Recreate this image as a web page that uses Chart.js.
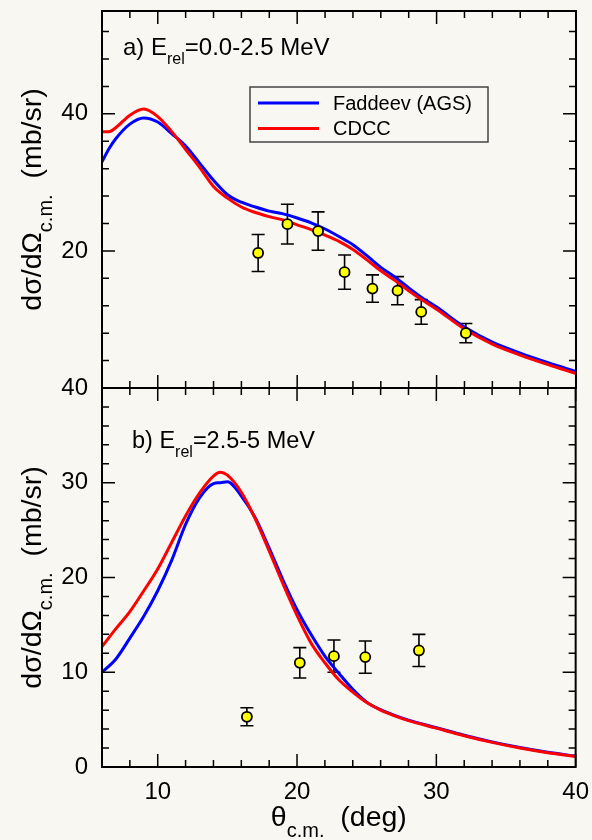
<!DOCTYPE html>
<html>
<head>
<meta charset="utf-8">
<script src="https://cdn.jsdelivr.net/npm/chart.js@4.4.0/dist/chart.umd.min.js"></script>
<style>
  html, body { margin: 0; padding: 0; background: #f8f7f1; }
  #wrap { position: relative; width: 592px; height: 840px; }
  canvas { position: absolute; left: 0; }
  #panelA { top: 0; }
  #panelB { top: 376px; }
</style>
</head>
<body>
<div id="wrap">
  <canvas id="panelA" width="592" height="400"></canvas>
  <canvas id="panelB" width="592" height="464"></canvas>
</div>
<script>
// panel a: E_rel = 0.0-2.5 MeV
var thetaA   = [6, 6.5, 7, 8, 9, 10, 11, 12, 13, 14, 15, 16, 17, 18, 19, 20, 21, 22, 23, 24, 25, 26, 27, 28, 29, 30, 32, 34, 36, 38, 40];
var cdccA    = [37.4, 37.4, 38.0, 39.8, 40.7, 39.6, 37.4, 34.8, 32.2, 29.4, 27.7, 26.4, 25.6, 25.0, 24.5, 23.8, 23.1, 22.3, 21.4, 20.2, 18.7, 17.1, 15.7, 14.2, 12.8, 11.5, 8.6, 6.4, 4.8, 3.4, 2.1];
var faddeevA = [33.0, 34.9, 36.4, 38.5, 39.4, 38.8, 37.1, 35.3, 32.8, 30.3, 28.2, 27.1, 26.4, 25.8, 25.4, 24.8, 24.1, 23.2, 22.1, 20.9, 19.3, 17.6, 16.2, 14.6, 13.1, 11.8, 8.9, 6.7, 5.1, 3.7, 2.4];
var expThetaA = [17.2, 19.3, 21.5, 23.4, 25.4, 27.2, 28.9, 32.1];
var expSigmaA = [19.7, 23.9, 22.9, 16.9, 14.5, 14.2, 11.1, 8.0];
var expErrA   = [2.7, 2.9, 2.8, 2.5, 2.0, 2.05, 1.8, 1.4];

// panel b: E_rel = 2.5-5 MeV
var thetaB   = [6, 7, 8, 9, 10, 11, 12, 13, 14, 14.5, 15, 16, 17, 18, 19, 20, 21, 22, 23, 24, 25, 26, 27, 28, 30, 32, 34, 36, 38, 40];
var cdccB    = [12.7, 14.6, 16.4, 18.6, 20.9, 23.7, 26.5, 28.9, 30.7, 31.1, 30.8, 29.0, 26.2, 22.8, 19.3, 16.0, 13.1, 11.0, 9.2, 7.9, 6.8, 6.0, 5.4, 4.9, 4.1, 3.3, 2.6, 2.0, 1.5, 1.1];
var faddeevB = [10.0, 11.4, 13.6, 15.9, 18.6, 21.8, 25.6, 28.4, 29.9, 30.0, 30.1, 28.6, 26.3, 23.1, 19.7, 16.6, 14.0, 11.7, 9.9, 8.2, 6.85, 6.05, 5.45, 4.95, 4.15, 3.35, 2.65, 2.05, 1.55, 1.15];
var expThetaB = [16.4, 20.2, 22.65, 24.9, 28.75];
var expSigmaB = [5.3, 11.0, 11.7, 11.6, 12.3];
var expErrB   = [0.95, 1.6, 1.7, 1.7, 1.7];

var xTicks  = [10, 20, 30, 40];
var yTicksA = [20, 40];
var yTicksB = [0, 10, 20, 30, 40];
var seriesNames = ['Faddeev (AGS)', 'CDCC'];

var FONT = "'Liberation Sans', Arial, Helvetica, sans-serif";

function pts(xs, ys) {
    return xs.map(function (x, i) { return { x: x, y: ys[i] }; });
}

function makeDatasets(theta, fad, cdcc, ex, ey) {
    // first dataset is drawn on top
    return [
        { label: 'exp', data: pts(ex, ey), showLine: false, pointRadius: 5,
          pointBackgroundColor: '#ffff00', pointBorderColor: '#000', pointBorderWidth: 1.8 },
        { label: seriesNames[1], data: pts(theta, cdcc), borderColor: '#ff0000', borderWidth: 3, pointRadius: 0,
          cubicInterpolationMode: 'monotone' },
        { label: seriesNames[0], data: pts(theta, fad), borderColor: '#0000ff', borderWidth: 3, pointRadius: 0,
          cubicInterpolationMode: 'monotone' }
    ];
}

// draw a run of text pieces; each piece is [text, size, dy]
function drawParts(ctx, parts, x, y, center) {
    var total = 0;
    parts.forEach(function (p) {
        ctx.font = p[1] + 'px ' + FONT;
        total += ctx.measureText(p[0]).width;
    });
    var cx = center ? x - total / 2 : x;
    ctx.textAlign = 'left';
    ctx.textBaseline = 'alphabetic';
    parts.forEach(function (p) {
        ctx.font = p[1] + 'px ' + FONT;
        ctx.fillText(p[0], cx, y + (p[2] || 0));
        cx += ctx.measureText(p[0]).width;
    });
}

var framePlugin = {
    id: 'frame',
    beforeDatasetsDraw: function (chart, args, opts) {
        // error bars under the markers
        var ctx = chart.ctx, xs = chart.scales.x, ys = chart.scales.y;
        var pts0 = chart.data.datasets[0].data;
        ctx.save();
        ctx.strokeStyle = '#000';
        ctx.lineWidth = 1.6;
        pts0.forEach(function (p, i) {
            var e = opts.errors[i];
            var px = xs.getPixelForValue(p.x);
            var top = ys.getPixelForValue(p.y + e), bot = ys.getPixelForValue(p.y - e);
            ctx.beginPath();
            ctx.moveTo(px, top); ctx.lineTo(px, bot);
            ctx.moveTo(px - 6.5, top); ctx.lineTo(px + 6.5, top);
            ctx.moveTo(px - 6.5, bot); ctx.lineTo(px + 6.5, bot);
            ctx.stroke();
        });
        ctx.restore();
    },
    afterDraw: function (chart, args, opts) {
        var ctx = chart.ctx, a = chart.chartArea;
        var xs = chart.scales.x, ys = chart.scales.y;
        ctx.save();
        ctx.strokeStyle = '#000';
        ctx.lineWidth = 1.5;
        ctx.beginPath();
        var v, p, len;
        for (v = xs.min; v <= xs.max + 1e-9; v += opts.xMinor) {
            p = xs.getPixelForValue(v);
            len = (Math.abs(v % opts.xMajor) < 1e-9) ? 13 : 7;
            ctx.moveTo(p, a.bottom); ctx.lineTo(p, a.bottom - len);
            ctx.moveTo(p, a.top); ctx.lineTo(p, a.top + len);
        }
        for (v = ys.min; v <= ys.max + 1e-9; v += opts.yMinor) {
            p = ys.getPixelForValue(v);
            len = (Math.abs(v % opts.yMajor) < 1e-9) ? 13 : 7;
            ctx.moveTo(a.left, p); ctx.lineTo(a.left + len, p);
            ctx.moveTo(a.right, p); ctx.lineTo(a.right - len, p);
        }
        ctx.stroke();
        ctx.lineWidth = 2;
        ctx.strokeRect(a.left, a.top, a.right - a.left, a.bottom - a.top);

        // labels
        ctx.fillStyle = '#000';
        drawParts(ctx, opts.title, opts.titleX, opts.titleY, false);

        ctx.save();
        ctx.translate(41, (a.top + a.bottom) / 2);
        ctx.rotate(-Math.PI / 2);
        drawParts(ctx, [['d\u03c3/d\u03a9', 28.5], ['c.m.', 20, 11], ['  (mb/sr)', 28.5]], 0, 0, true);
        ctx.restore();

        if (opts.xTitle) {
            drawParts(ctx, [['\u03b8', 28.5], ['c.m.', 20, 11], ['  (deg)', 28.5]],
                (a.left + a.right) / 2, opts.xTitleY, true);
        }

        if (opts.legend) {
            var L = opts.legend;
            ctx.fillStyle = '#f8f7f1';
            ctx.fillRect(L.x, L.y, L.w, L.h);
            ctx.strokeStyle = '#444';
            ctx.lineWidth = 1.5;
            ctx.strokeRect(L.x, L.y, L.w, L.h);
            seriesNames.forEach(function (name, i) {
                var ds = chart.data.datasets.filter(function (d) { return d.label === name; })[0];
                var ly = L.y + 16 + i * 25.6;
                ctx.strokeStyle = ds.borderColor;
                ctx.lineWidth = 3;
                ctx.beginPath();
                ctx.moveTo(L.x + 8, ly); ctx.lineTo(L.x + 69, ly);
                ctx.stroke();
                ctx.fillStyle = '#000';
                ctx.font = '20px ' + FONT;
                ctx.textAlign = 'left';
                ctx.textBaseline = 'middle';
                ctx.fillText(name, L.x + 83, ly + 1);
            });
        }
        ctx.restore();
    }
};

function makeChart(id, cfg) {
    return new Chart(document.getElementById(id), {
        type: 'line',
        data: { datasets: cfg.datasets },
        options: {
            responsive: false,
            animation: false,
            devicePixelRatio: 1,
            layout: { padding: cfg.padding },
            plugins: {
                legend: { display: false },
                tooltip: { enabled: false },
                frame: cfg.frame
            },
            scales: {
                x: {
                    type: 'linear', min: 6, max: 40, bounds: 'data',
                    display: cfg.showX,
                    grid: { display: false },
                    border: { display: false },
                    afterBuildTicks: function (s) { s.ticks = xTicks.map(function (v) { return { value: v }; }); },
                    afterFit: function (s) { s.height = cfg.xHeight; },
                    ticks: { color: '#000', font: { family: FONT, size: 24 }, padding: 3, maxRotation: 0, autoSkip: false }
                },
                y: {
                    type: 'linear', min: cfg.yMin, max: cfg.yMax, bounds: 'data',
                    grid: { display: false },
                    border: { display: false },
                    afterBuildTicks: function (s) { s.ticks = cfg.yTicks.map(function (v) { return { value: v }; }); },
                    afterFit: function (s) { s.width = 102; },
                    // tiny line height keeps the labels from padding the plot area
                    ticks: { color: '#000', font: { family: FONT, size: 24, lineHeight: 0.05 }, padding: 6, autoSkip: false }
                }
            }
        },
        plugins: [framePlugin]
    });
}

makeChart('panelA', {
    datasets: makeDatasets(thetaA, faddeevA, cdccA, expThetaA, expSigmaA),
    padding: { left: 0, right: 16, top: 11, bottom: 12 },
    showX: false, xHeight: 0,
    yMin: 0, yMax: 55, yTicks: yTicksA,
    frame: {
        errors: expErrA, xMinor: 2, xMajor: 10, yMinor: 4, yMajor: 20,
        title: [['a) E', 24], ['rel', 16, 8.5], ['=0.0-2.5 MeV', 24]], titleX: 123, titleY: 55,
        legend: { x: 250, y: 87, w: 238, h: 55 }
    }
});

makeChart('panelB', {
    datasets: makeDatasets(thetaB, faddeevB, cdccB, expThetaB, expSigmaB),
    padding: { left: 0, right: 16, top: 12, bottom: 0 },
    showX: true, xHeight: 73,
    yMin: 0, yMax: 40, yTicks: yTicksB,
    frame: {
        errors: expErrB, xMinor: 2, xMajor: 10, yMinor: 2, yMajor: 10,
        title: [['b) E', 23.5], ['rel', 16, 9], ['=2.5-5 MeV', 23.5]], titleX: 132, titleY: 72,
        xTitle: true, xTitleY: 450
    }
});
</script>
</body>
</html>
